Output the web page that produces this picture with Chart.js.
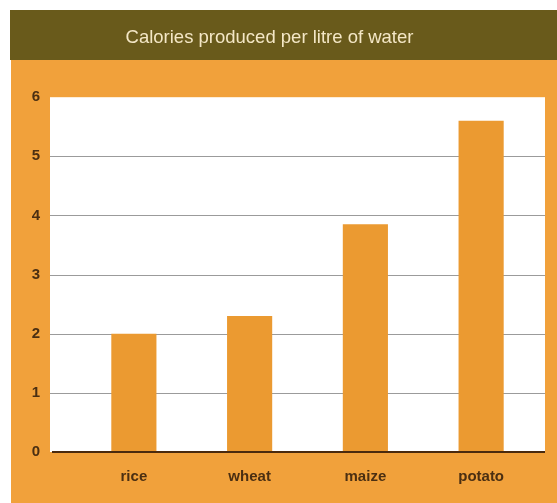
<!DOCTYPE html>
<html>
<head>
<meta charset="utf-8">
<script src="https://cdn.jsdelivr.net/npm/chart.js@4"></script>
<style>
html,body{margin:0;padding:0;background:#ffffff;}
#wrap{width:557px;height:503px;position:relative;}
</style>
</head>
<body>
<div id="wrap"><canvas id="c" width="557" height="503"></canvas></div>
<script>
const categories = ["rice", "wheat", "maize", "potato"];
const calories = [2.0, 2.3, 3.85, 5.6];
const yTicks = [0, 1, 2, 3, 4, 5, 6];
const titleText = "Calories produced per litre of water";

const bgPlugin = {
  id: 'bgPlugin',
  beforeDraw(chart) {
    const ctx = chart.ctx;
    const y = chart.scales.y;
    ctx.save();
    ctx.fillStyle = '#ffffff';
    ctx.fillRect(0, 0, chart.width, chart.height);
    ctx.fillStyle = '#f1a13b';
    ctx.fillRect(11, 60, chart.width - 11, chart.height - 60);
    ctx.fillStyle = '#695a1b';
    ctx.fillRect(10, 10, chart.width - 10, 50);
    const top = y.getPixelForValue(6);
    const bottom = y.getPixelForValue(0);
    const left = chart.chartArea.left - 26;
    const right = chart.chartArea.right + 6;
    ctx.fillStyle = '#ffffff';
    ctx.fillRect(left, top, right - left, bottom - top);
    ctx.strokeStyle = '#9b9b9b';
    ctx.lineWidth = 1.2;
    yTicks.forEach(v => {
      if (v === 0 || v === 6) return;
      const py = Math.round(y.getPixelForValue(v)) + 0.5;
      ctx.beginPath();
      ctx.moveTo(left, py);
      ctx.lineTo(right, py);
      ctx.stroke();
    });
    ctx.restore();
  },
  afterDatasetsDraw(chart) {
    const ctx = chart.ctx;
    const y = chart.scales.y;
    const left = chart.chartArea.left - 24;
    const right = chart.chartArea.right + 6;
    const py = y.getPixelForValue(0);
    ctx.save();
    ctx.strokeStyle = '#4a2a0e';
    ctx.lineWidth = 2;
    ctx.beginPath();
    ctx.moveTo(left, py);
    ctx.lineTo(right, py);
    ctx.stroke();
    ctx.restore();
  }
};

new Chart(document.getElementById('c'), {
  type: 'bar',
  data: {
    labels: categories,
    datasets: [{
      data: calories,
      backgroundColor: '#eb9a31',
      borderWidth: 0,
      barPercentage: 0.39,
      categoryPercentage: 1.0
    }]
  },
  plugins: [bgPlugin],
  options: {
    responsive: false,
    animation: false,
    devicePixelRatio: 1,
    layout: { padding: { left: 0, right: 18, top: 0, bottom: 0 } },
    plugins: {
      legend: { display: false },
      tooltip: { enabled: false },
      title: {
        display: true,
        text: titleText,
        color: '#f4e7c6',
        font: { family: 'Liberation Sans, Arial, sans-serif', size: 18.5, weight: 'normal', lineHeight: 1.2 },
        padding: { top: 27, bottom: 48 }
      }
    },
    scales: {
      x: {
        grid: { display: false, drawTicks: false },
        border: { display: false },
        ticks: {
          color: '#4b2f12',
          font: { family: 'Liberation Sans, Arial, sans-serif', size: 15, weight: 'bold' },
          padding: 16
        },
        afterFit(scale) { scale.height = 51; }
      },
      y: {
        min: 0,
        max: 6,
        grid: { display: false, drawTicks: false },
        border: { display: false },
        afterBuildTicks(scale) { scale.ticks = yTicks.map(v => ({ value: v })); },
        ticks: {
          color: '#4b2f12',
          font: { family: 'Liberation Sans, Arial, sans-serif', size: 15, weight: 'bold' },
          padding: 36
        },
        afterFit(scale) { scale.width = 76; }
      }
    }
  }
});
</script>
</body>
</html>
